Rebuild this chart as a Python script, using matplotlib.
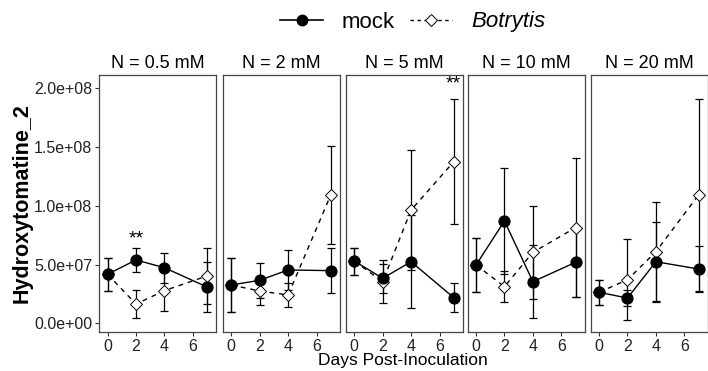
import matplotlib
matplotlib.use("Agg")
import matplotlib.pyplot as plt
from matplotlib.lines import Line2D
from matplotlib.ticker import FuncFormatter

plt.rcParams['font.family'] = ['Liberation Sans', 'DejaVu Sans']

SCALE = 1e7
days = [0, 2, 4, 7]
panels = ["N = 0.5 mM", "N = 2 mM", "N = 5 mM", "N = 10 mM", "N = 20 mM"]

mock_mean = [
    [4.17, 5.39, 4.73, 3.09],
    [3.26, 3.66, 4.54, 4.48],
    [5.30, 3.83, 5.24, 2.18],
    [4.96, 8.71, 3.54, 5.19],
    [2.64, 2.15, 5.24, 4.62],
]
mock_se = [
    [1.41, 1.03, 1.28, 2.15],
    [2.30, 1.50, 1.70, 1.93],
    [1.15, 1.24, 3.96, 1.23],
    [2.30, 4.48, 3.11, 2.98],
    [1.05, 0.68, 3.41, 1.95],
]
bot_mean = [
    [4.17, 1.64, 2.78, 4.03],
    [3.26, 2.75, 2.41, 10.92],
    [5.30, 3.54, 9.64, 13.75],
    [4.96, 3.12, 6.04, 8.14],
    [2.64, 3.71, 6.09, 10.92],
]
bot_se = [
    [1.41, 1.22, 1.73, 2.35],
    [2.30, 1.22, 1.02, 4.18],
    [1.15, 1.85, 5.11, 5.30],
    [2.30, 1.33, 3.97, 5.90],
    [1.05, 3.44, 4.21, 8.20],
]
# significance marks: (panel index, day, y position in 1e7 units)
signif = [(0, 2, 7.2), (2, 7, 20.4)]

W, H = 708, 371
fig = plt.figure(figsize=(W / 100, H / 100), dpi=100)

lefts = [99, 222.7, 345.7, 467.5, 590.5]
pw = 117.3
top_px, bot_px = 75, 331.7
yticks = [0, 5e7, 1e8, 1.5e8, 2e8]
fmt = FuncFormatter(lambda v, p: f"{v:.1e}")

for i, lab in enumerate(panels):
    ax = fig.add_axes([lefts[i] / W, 1 - bot_px / H, pw / W, (bot_px - top_px) / H])
    mm = [v * SCALE for v in mock_mean[i]]
    ms = [v * SCALE for v in mock_se[i]]
    bm = [v * SCALE for v in bot_mean[i]]
    bs = [v * SCALE for v in bot_se[i]]
    ax.errorbar(days, bm, yerr=bs, fmt='none', ecolor='black', elinewidth=0.9,
                capsize=3, capthick=0.9, zorder=2)
    ax.errorbar(days, mm, yerr=ms, fmt='none', ecolor='black', elinewidth=0.9,
                capsize=3, capthick=0.9, zorder=2)
    ax.plot(days, bm, linestyle=(0, (3.5, 3.5)), color='black', lw=1.0,
            marker='D', markersize=6.5, markerfacecolor='white',
            markeredgecolor='black', markeredgewidth=0.7, zorder=3)
    ax.plot(days, mm, linestyle='-', color='black', lw=1.0,
            marker='o', markersize=7.8, markerfacecolor='black',
            markeredgecolor='black', zorder=4)
    for (pi, d, yv) in signif:
        if pi == i:
            ax.text(d, yv * SCALE, "**", ha='center', va='center', fontsize=14)
    ax.set_xlim(-0.6, 7.65)
    ax.set_ylim(-0.715e7, 2.113e8)
    ax.set_xticks([0, 2, 4, 6])
    ax.set_yticks(yticks)
    ax.yaxis.set_major_formatter(fmt)
    ax.tick_params(axis='both', length=3, width=0.8, color='#333333',
                   labelsize=11.5, labelcolor='#222222', pad=2)
    if i > 0:
        ax.tick_params(axis='y', left=False, labelleft=False)
    for s in ax.spines.values():
        s.set_color('#444444')
        s.set_linewidth(0.9)
    ax.set_title(lab, fontsize=13, pad=5)

fig.text(22 / W, 1 - 203 / H, "Hydroxytomatine_2", rotation=90, fontsize=15.5,
         fontweight='bold', ha='center', va='center')
fig.text(403 / W, 1 - 361 / H, "Days Post-Inoculation", fontsize=12.5,
         ha='center', va='center')

handles = [
    Line2D([], [], color='black', lw=1.2, marker='o', markersize=7.5,
           markerfacecolor='black'),
    Line2D([], [], color='black', lw=1.0, linestyle=(0, (2.5, 2.5)), marker='D',
           markersize=6, markerfacecolor='white', markeredgewidth=0.7),
]
leg = fig.legend(handles, ["mock", "Botrytis"], loc='center',
                 bbox_to_anchor=(413 / W, 1 - 22 / H), ncol=2, frameon=False,
                 fontsize=16, handlelength=1.9, columnspacing=0.7,
                 handletextpad=0.85)
leg.get_texts()[1].set_style('italic')

fig.savefig("out.png", dpi=100)
